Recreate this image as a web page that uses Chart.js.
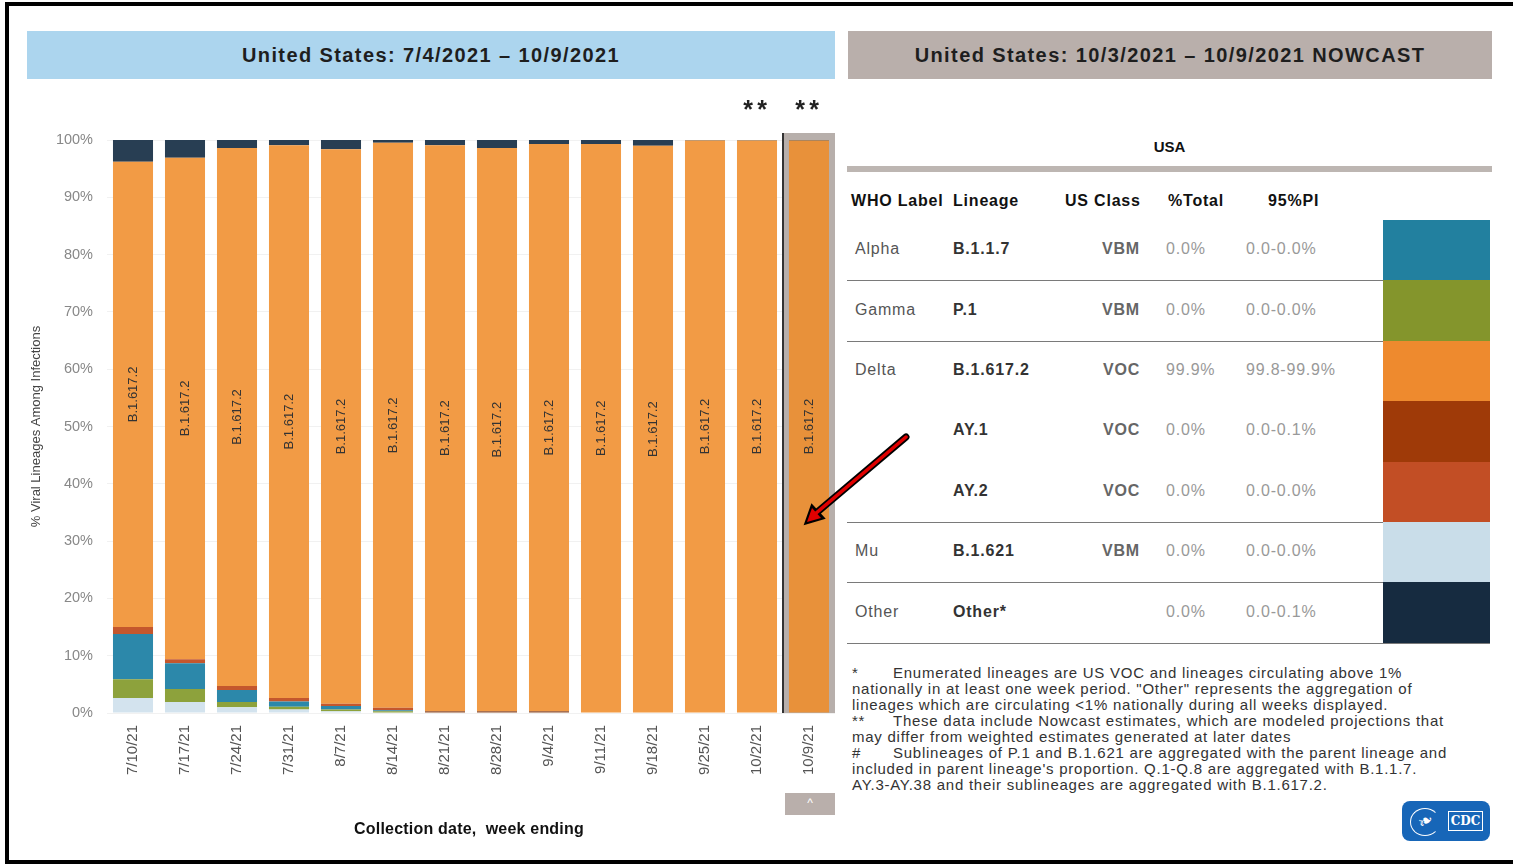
<!DOCTYPE html>
<html>
<head>
<meta charset="utf-8">
<script src="https://cdn.jsdelivr.net/npm/chart.js@4"></script>
<style>
  html, body { margin: 0; padding: 0; background: #fff; }
  body { width: 1513px; height: 866px; position: relative; overflow: hidden;
         font-family: "Liberation Sans", Arial, sans-serif; }
  .frame { position: absolute; left: 5px; top: 2px; width: 1530px; height: 854px;
           border: 4px solid #000; box-sizing: content-box; }
  .hdr { position: absolute; top: 31px; height: 48px; line-height: 48px; text-align: center;
         font-weight: bold; font-size: 20px; letter-spacing: 1.4px; color: #1e1e1e; }
  #chartBox { position: absolute; left: 0; top: 0; width: 845px; height: 866px; }
  .xtitle { position: absolute; left: 300px; width: 338px; top: 820px; text-align: center;
            font-weight: bold; font-size: 16px; letter-spacing: 0.2px; color: #111; }
  .up { position: absolute; left: 785px; top: 793px; width: 50px; height: 22px; background: #b9afab;
        color: #fff; font-size: 12px; text-align: center; line-height: 20px; }
  .usa { position: absolute; left: 847px; width: 645px; top: 138px; text-align: center;
         font-weight: bold; font-size: 15px; color: #111; }
  .usabar { position: absolute; left: 847px; top: 166px; width: 645px; height: 6px; background: #bdb6b2; }
  .cell { position: absolute; font-size: 16px; letter-spacing: 0.8px; white-space: nowrap; line-height: 18px; }
  .th { font-weight: bold; color: #111; letter-spacing: 0.8px; }
  .sw { position: absolute; left: 1383px; width: 107px; }
  .rule { position: absolute; left: 847px; height: 1px; background: #7a7a7a; }
  .notes { position: absolute; left: 852px; top: 665px; font-size: 15px; letter-spacing: 0.75px; line-height: 16px;
           color: #333; white-space: nowrap; }
  .notes span.m { display: inline-block; width: 41px; }
  .cdc { position: absolute; left: 1402px; top: 801px; width: 88px; height: 40px; background: #1766b8;
         border-radius: 8px; }
  .cdc .ring { position: absolute; left: 8px; top: 7px; width: 28px; height: 26px; border: 1px solid #fff;
               border-radius: 50%; border-right-color: transparent; }
  .cdc .bird { position: absolute; left: 16px; top: 9px; color: #fff; font-size: 18px; transform: rotate(-30deg); }
  .cdc .txt { position: absolute; left: 46px; top: 10px; width: 33px; height: 18px; border: 1px solid #fff;
              color: #fff; font: bold 12px "DejaVu Serif", serif; text-align: center; line-height: 18px; }
  svg.arrow { position: absolute; left: 0; top: 0; }
</style>
</head>
<body>
<div class="frame"></div>
<div class="hdr" style="left:27px;width:808px;background:#acd5ee;">United States: 7/4/2021 – 10/9/2021</div>
<div class="hdr" style="left:848px;width:644px;background:#b9afab;">United States: 10/3/2021 – 10/9/2021 NOWCAST</div>

<div id="chartBox"><canvas id="chart"></canvas></div>
<div class="xtitle">Collection date,&nbsp; week ending</div>
<div class="up">^</div>

<div class="usa">USA</div>
<div class="usabar"></div>
<div id="table"></div>

<div class="notes">
<span class="m">*</span>Enumerated lineages are US VOC and lineages circulating above 1%<br>
nationally in at least one week period. "Other" represents the aggregation of<br>
lineages which are circulating &lt;1% nationally during all weeks displayed.<br>
<span class="m">**</span>These data include Nowcast estimates, which are modeled projections that<br>
may differ from weighted estimates generated at later dates<br>
<span class="m">#</span>Sublineages of P.1 and B.1.621 are aggregated with the parent lineage and<br>
included in parent lineage's proportion. Q.1-Q.8 are aggregated with B.1.1.7.<br>
AY.3-AY.38 and their sublineages are aggregated with B.1.617.2.
</div>

<div class="cdc"><div class="ring"></div><div class="bird">&#x2767;</div><div class="txt">CDC</div></div>

<svg class="arrow" width="1513" height="866">
  <line x1="906" y1="437" x2="815" y2="514" stroke="#000" stroke-width="7" stroke-linecap="round"/>
  <polygon points="806,523 812,506 823,518" fill="#000" stroke="#000" stroke-width="3"/>
  <line x1="906" y1="437" x2="815" y2="514" stroke="#e00000" stroke-width="3.5" stroke-linecap="round"/>
  <polygon points="807,522 812,508 821,518" fill="#e00000"/>
</svg>

<script>
const weeks = ["7/10/21", "7/17/21", "7/24/21", "7/31/21", "8/7/21", "8/14/21", "8/21/21",
  "8/28/21", "9/4/21", "9/11/21", "9/18/21", "9/25/21", "10/2/21", "10/9/21"];

// % of viral lineages per week, bottom of stack first
const muValues    = [2.6, 1.9, 1.0, 0.6, 0.3, 0, 0, 0, 0, 0, 0, 0, 0, 0];
const gammaValues = [3.3, 2.3, 0.9, 0.5, 0.3, 0.3, 0, 0, 0, 0, 0, 0, 0, 0];
const alphaValues = [7.9, 4.5, 2.1, 0.9, 0.6, 0.2, 0, 0, 0, 0, 0, 0, 0, 0];
const ay2Values   = [1.2, 0.7, 0.7, 0.6, 0.4, 0.4, 0, 0, 0, 0, 0, 0, 0, 0];
const ay1Values   = [0, 0, 0, 0, 0, 0, 0.3, 0.3, 0.3, 0, 0, 0, 0, 0];
const deltaValues = [81.2, 87.5, 93.9, 96.5, 96.8, 98.6, 98.8, 98.3, 99.0, 99.3, 99.0, 99.9, 99.9, 99.9];
const otherValues = [3.8, 3.1, 1.4, 0.9, 1.6, 0.5, 0.9, 1.4, 0.7, 0.7, 1.0, 0.1, 0.1, 0.1];

const yTicks = [0, 10, 20, 30, 40, 50, 60, 70, 80, 90, 100];
const nowcastWeeks = ["10/2/21", "10/9/21"];

// nowcast table
const whoLabels = ["Alpha", "Gamma", "Delta", "", "", "Mu", "Other"];
const lineages = ["B.1.1.7", "P.1", "B.1.617.2", "AY.1", "AY.2", "B.1.621", "Other*"];
const usClasses = ["VBM", "VBM", "VOC", "VOC", "VOC", "VBM", ""];
const pctTotal = ["0.0%", "0.0%", "99.9%", "0.0%", "0.0%", "0.0%", "0.0%"];
const predInterval = ["0.0-0.0%", "0.0-0.0%", "99.8-99.9%", "0.0-0.1%", "0.0-0.0%", "0.0-0.0%", "0.0-0.1%"];
const tableColors = ["#22809f", "#84952c", "#ee8a2e", "#9f3a08", "#c24e25", "#c9dde9", "#162b40"];

function buildTable() {
  const el = document.getElementById("table");
  let html = "";
  const heads = [["WHO Label", 851], ["Lineage", 953], ["US Class", 1065], ["%Total", 1168], ["95%PI", 1268]];
  heads.forEach(([t, x]) => {
    html += `<div class="cell th" style="left:${x}px;top:192px;">${t}</div>`;
  });
  const rowTop = 220, rowH = 60.4;
  lineages.forEach((lin, i) => {
    const top = rowTop + i * rowH;
    const cy = top + rowH / 2 - 10;
    html += `<div class="sw" style="top:${top}px;height:${rowH + 0.6}px;background:${tableColors[i]};"></div>`;
    html += `<div class="cell" style="left:855px;top:${cy}px;color:#555;">${whoLabels[i]}</div>`;
    html += `<div class="cell" style="left:953px;top:${cy}px;color:#333;font-weight:bold;">${lin}</div>`;
    html += `<div class="cell" style="left:1040px;width:100px;text-align:right;top:${cy}px;color:#666;font-weight:bold;">${usClasses[i]}</div>`;
    html += `<div class="cell" style="left:1166px;top:${cy}px;color:#999;">${pctTotal[i]}</div>`;
    html += `<div class="cell" style="left:1246px;top:${cy}px;color:#999;">${predInterval[i]}</div>`;
  });
  [1, 2, 5, 6].forEach((i) => {
    html += `<div class="rule" style="top:${Math.round(rowTop + i * rowH)}px;width:536px;"></div>`;
  });
  html += `<div class="rule" style="top:${Math.round(rowTop + 7 * rowH)}px;width:643px;"></div>`;
  el.innerHTML = html;
}
buildTable();

const nowcastFrame = {
  id: "nowcastFrame",
  beforeDatasetsDraw(chart) {
    const { ctx, scales } = chart;
    const x = scales.x.getPixelForValue(weeks.length - 1);
    const top = scales.y.getPixelForValue(100) - 7;
    const bottom = scales.y.getPixelForValue(0);
    ctx.save();
    ctx.fillStyle = "#b7afab";
    ctx.fillRect(x - 26, top, 52, bottom - top);
    ctx.fillStyle = "#333";
    ctx.fillRect(x - 27, top, 2, bottom - top);
    ctx.restore();
  },
  afterDatasetsDraw(chart) {
    const { ctx, scales } = chart;
    const deltaIndex = chart.data.datasets.findIndex((d) => d.label === "Delta");
    const meta = chart.getDatasetMeta(deltaIndex);
    ctx.save();
    ctx.fillStyle = "#333";
    ctx.font = "13px 'Liberation Sans', Arial";
    ctx.textAlign = "center";
    ctx.textBaseline = "middle";
    meta.data.forEach((bar) => {
      ctx.save();
      ctx.translate(bar.x, (bar.y + bar.base) / 2);
      ctx.rotate(-Math.PI / 2);
      ctx.fillText("B.1.617.2", 0, 0);
      ctx.restore();
    });
    // nowcast markers above the last two weeks
    ctx.font = "bold 25px 'Liberation Sans', Arial";
    ctx.fillStyle = "#222";
    ctx.textBaseline = "alphabetic";
    nowcastWeeks.forEach((w) => {
      const x = scales.x.getPixelForValue(weeks.indexOf(w)) - 2;
      ctx.fillText("*", x - 7, 118);
      ctx.fillText("*", x + 7, 118);
    });
    ctx.restore();
  },
};

const lastDelta = deltaValues.map((v, i) => (i === weeks.length - 1 ? "#e8913a" : "#f29b45"));

new Chart(document.getElementById("chart"), {
  type: "bar",
  data: {
    labels: weeks,
    datasets: [
      { label: "Mu", data: muValues, backgroundColor: "#d3e3ee" },
      { label: "Gamma", data: gammaValues, backgroundColor: "#8da23c" },
      { label: "Alpha", data: alphaValues, backgroundColor: "#2c88aa" },
      { label: "AY.2", data: ay2Values, backgroundColor: "#c4572d" },
      { label: "AY.1", data: ay1Values, backgroundColor: "#8c4a26" },
      { label: "Delta", data: deltaValues, backgroundColor: lastDelta },
      { label: "Other", data: otherValues, backgroundColor: "#283e53" },
    ],
  },
  options: {
    responsive: true,
    maintainAspectRatio: false,
    animation: false,
    datasets: { bar: { barPercentage: 0.77, categoryPercentage: 1, borderWidth: 0 } },
    layout: { padding: { left: 29, top: 140, right: 10, bottom: 83 } },
    plugins: { legend: { display: false }, tooltip: { enabled: false } },
    scales: {
      x: {
        stacked: true,
        grid: { display: false },
        border: { display: false },
        ticks: {
          minRotation: 90,
          maxRotation: 90,
          autoSkip: false,
          padding: 4,
          color: "#555",
          font: { family: "'Liberation Sans', Arial", size: 15 },
        },
        afterFit: (scale) => { scale.height = 70; },
      },
      y: {
        stacked: true,
        min: 0,
        max: 100,
        afterBuildTicks: (scale) => { scale.ticks = yTicks.map((v) => ({ value: v })); },
        grid: { color: "#f1f1f1", drawTicks: false },
        border: { display: false },
        ticks: {
          padding: 14,
          color: "#888",
          font: { family: "'Liberation Sans', Arial", size: 14.5 },
          callback: (value) => `${value}%`,
        },
        title: {
          display: true,
          text: "% Viral Lineages Among Infections",
          color: "#444",
          font: { family: "'Liberation Sans', Arial", size: 13 },
          padding: 0,
        },
        afterFit: (scale) => { scale.width = 78; },
      },
    },
  },
  plugins: [nowcastFrame],
});
</script>
</body>
</html>
